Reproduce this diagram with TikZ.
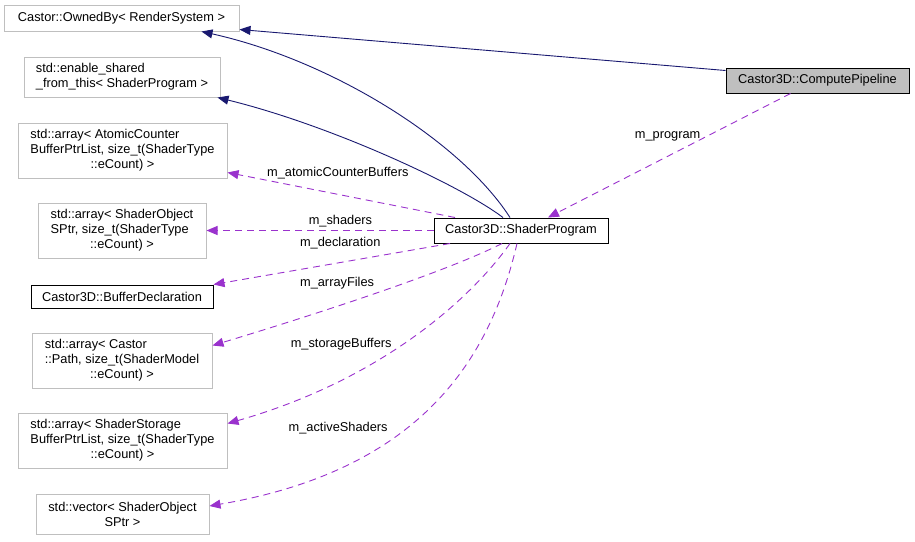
\documentclass[tikz,border=0pt]{standalone}
\usepackage{fontspec}
\setmainfont{Liberation Sans}
\usepackage{tikz}
\usetikzlibrary{arrows.meta}
\definecolor{edgenavy}{HTML}{191970}
\definecolor{edgeorchid}{HTML}{9A32CD}
\definecolor{boxgray}{HTML}{BFBFBF}
\newcommand{\midrow}[1]{\multicolumn{1}{@{}c@{}}{#1}}

\begin{document}
\begin{tikzpicture}[
    x=1pt, y=-1pt,
    every node/.style={font=\fontsize{12.8}{15}\selectfont},
    refnode/.style={rectangle, draw=boxgray, fill=white, line width=1pt, inner sep=0pt, align=center},
    classnode/.style={rectangle, draw=black, fill=white, line width=1pt, inner sep=0pt, align=center},
    mainnode/.style={classnode, fill=boxgray},
    inherit/.style={-{Triangle[length=11pt, width=9pt]}, line width=0.9pt, draw=edgenavy},
    member/.style={-{Triangle[length=11pt, width=9pt]}, line width=0.9pt, draw=edgeorchid, dash pattern=on 7pt off 5pt},
    lbl/.style={inner sep=0pt, text=black}
]
\useasboundingbox (0,0) rectangle (915,541);
\node (owned) [refnode, minimum width=235pt, minimum height=26pt] at (121.5,18) {Castor::OwnedBy< RenderSystem >};
\node (enable) [refnode, align=left, minimum width=196pt, minimum height=40pt] at (122,77) {std::enable\_shared\\\_from\_this< ShaderProgram >};
\node (atomic) [refnode, minimum width=209pt, minimum height=55pt] at (122.5,150.5) {\begin{tabular}{@{}l@{}}std::array< AtomicCounter\\BufferPtrList, size\_t(ShaderType\\\midrow{::eCount) >}\end{tabular}};
\node (objarr) [refnode, minimum width=168pt, minimum height=55pt] at (122,230.5) {\begin{tabular}{@{}l@{}}std::array< ShaderObject\\SPtr, size\_t(ShaderType\\\midrow{::eCount) >}\end{tabular}};
\node (decl) [classnode, minimum width=182pt, minimum height=23pt] at (122,296.5) {Castor3D::BufferDeclaration};
\node (pathbox) [refnode, minimum width=180pt, minimum height=55pt] at (122,360.5) {\begin{tabular}{@{}l@{}}std::array< Castor\\::Path, size\_t(ShaderModel\\\midrow{::eCount) >}\end{tabular}};
\node (storage) [refnode, minimum width=209pt, minimum height=55pt] at (122.5,440.5) {\begin{tabular}{@{}l@{}}std::array< ShaderStorage\\BufferPtrList, size\_t(ShaderType\\\midrow{::eCount) >}\end{tabular}};
\node (vec) [refnode, minimum width=173pt, minimum height=40pt] at (122.5,514) {std::vector< ShaderObject\\SPtr >};
\node (prog) [classnode, minimum width=174pt, minimum height=25pt] at (521,230.5) {Castor3D::ShaderProgram};
\node (pipe) [mainnode, minimum width=183pt, minimum height=25pt] at (817.5,80.5) {Castor3D::ComputePipeline};

% inheritance
\draw [inherit] ([yshift=10pt]pipe.west) -- ([yshift=2pt]owned.south east);
\draw [inherit] ([xshift=-11pt]prog.north) .. controls (460,140) and (330,60) .. ([xshift=80pt]owned.south);
\draw [inherit] ([xshift=-18pt]prog.north) .. controls (460,185) and (330,125) .. ([xshift=-3pt]enable.south east);

% members
\draw [member] ([xshift=-27pt]pipe.south) -- node[lbl, pos=0.37, anchor=east, yshift=3pt] {m\_program} ([xshift=27pt]prog.north);
\draw [member] ([xshift=-66pt]prog.north) -- node[lbl, pos=0.515, yshift=21pt] {m\_atomicCounterBuffers} ([yshift=6pt]atomic.south east);
\draw [member] (prog.west) -- node[lbl, pos=0.41, yshift=9.5pt] {m\_shaders} (objarr.east);
\draw [member] ([xshift=-71pt]prog.south) -- node[lbl, pos=0.464, yshift=19pt] {m\_declaration} (decl.north east);
\draw [member] ([xshift=-19pt]prog.south) .. controls (450,270) and (330,310) .. ([yshift=15pt]pathbox.east) node[lbl, pos=0.64, yshift=23pt] {m\_arrayFiles};
\draw [member] ([xshift=-11pt]prog.south) .. controls (470,300) and (380,380) .. ([yshift=17pt]storage.east) node[lbl, pos=0.72, yshift=36pt] {m\_storageBuffers};
\draw [member] ([xshift=-4pt]prog.south) .. controls (490,360) and (420,470) .. ([yshift=8pt]vec.east) node[lbl, pos=0.76, yshift=40pt] {m\_activeShaders};
\end{tikzpicture}
\end{document}
